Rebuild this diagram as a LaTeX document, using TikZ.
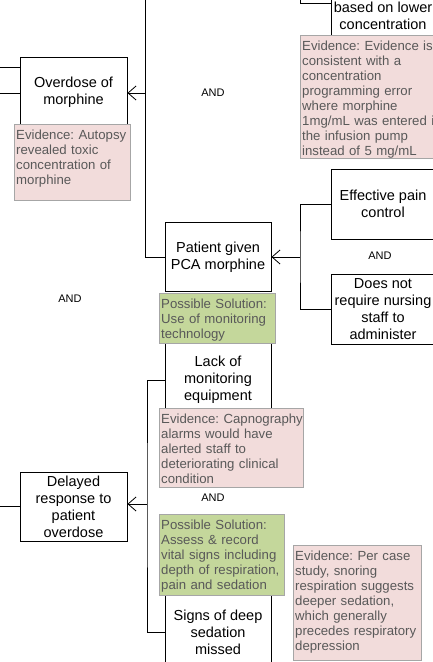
\documentclass[tikz,border=0pt]{standalone}
\usepackage{fontspec}
\setmainfont{Liberation Sans}
\usetikzlibrary{arrows.meta}

\definecolor{evfill}{HTML}{F2DCDB}
\definecolor{solfill}{HTML}{C4D79B}
\definecolor{boxline}{HTML}{A6A6A6}
\definecolor{notetext}{HTML}{595959}

\newcommand{\notefont}{\fontsize{13.2}{15}\selectfont\frenchspacing\hyphenpenalty 10000\relax}

\tikzset{
    cause/.style={draw, line width=0.9pt, minimum width=107pt, minimum height=69pt,
        inner sep=2pt, align=center, font=\fontsize{14.5}{17}\selectfont},
    andlabel/.style={font=\fontsize{11}{13}\selectfont},
    evidence/.style 2 args={draw=boxline, fill=evfill, text=notetext, anchor=north west,
        text width=#1, text height=12pt, text depth=#2, inner xsep=2pt, inner ysep=3pt,
        align=left, font=\notefont},
    solution/.style 2 args={evidence={#1}{#2}, fill=solfill},
    link/.style={line width=0.8pt},
    arr/.style={link, -{Straight Barb[length=8pt,width=14pt]}}
}

\begin{document}
\begin{tikzpicture}[x=1pt, y=-1pt]
    \useasboundingbox (0,0) rectangle (433,662);
    \clip (0,0) rectangle (433,662);

    % cause boxes
    \node[cause, minimum width=104pt, minimum height=43pt] (pump) at (383,15.5) {based on lower\\concentration};
    \node[cause] (overdose) at (73.5,92) {Overdose of\\morphine};
    \node[cause, minimum width=106pt] (patient) at (218,257) {Patient given\\PCA morphine};
    \node[cause, minimum width=104pt, minimum height=70pt] (pain) at (383,204) {Effective pain\\control};
    \node[cause, minimum width=104pt, minimum height=70pt] (nursing) at (383,309) {Does not\\require nursing\\staff to\\administer};
    \node[cause, minimum width=106pt, minimum height=74pt] (monitor) at (218,380) {Lack of\\monitoring\\equipment};
    \node[cause] (delayed) at (73.5,506.5) {Delayed\\response to\\patient\\overdose};
    \node[cause, minimum width=106pt, minimum height=74pt] (signs) at (218,632) {Signs of deep\\sedation\\missed};

    % AND labels
    \node[andlabel] (and1) at (213,93) {AND};
    \node[andlabel] (and2) at (380,256) {AND};
    \node[andlabel] (and3) at (70,299) {AND};
    \node[andlabel] (and4) at (213,498) {AND};

    % connectors
    \coordinate (pumpin) at (300,-5);
    \draw[link] (pumpin) |- ([yshift=12.5pt]pump.west);

    \coordinate (ortop) at (145,-5);
    \coordinate (orjoin) at (145,93);
    \draw[link] (ortop) |- (patient.west);
    \draw[arr] (orjoin) -- (orjoin -| overdose.east);
    \coordinate (odin1) at (-5,67);
    \coordinate (odin2) at (-5,93);
    \draw[link] (odin1) -- (odin1 -| overdose.west);
    \draw[link] (odin2) -- (odin2 -| overdose.west);

    \coordinate (ptjoin) at (300,257);
    \draw[link] (pain.west) -| (ptjoin) |- (nursing.west);
    \draw[arr] (ptjoin) -- (patient.east);

    \coordinate (dljoin) at (147,504);
    \coordinate (dlout) at (-5,506.5);
    \draw[link] (monitor.west) -| (dljoin) |- (signs.west);
    \draw[arr] (dljoin) -- (dljoin -| delayed.east);
    \draw[link] (dlout) -- (delayed.west);

    % evidence and solutions
    \node[evidence={132pt}{105pt}] (evpump) at (300,35) {\mbox{Evidence: Evidence is}\\consistent with a\\concentration\\programming error\\where morphine\\\mbox{1mg/mL was entered in}\\the infusion pump\\\mbox{instead of 5 mg/mL}};
    \node[evidence={112pt}{58pt}] (evautopsy) at (14,124) {\mbox{Evidence: Autopsy}\\revealed toxic\\concentration of\\morphine};
    \node[solution={112pt}{32pt}] (solmonitor) at (159,293) {\mbox{Possible Solution:}\\\mbox{Use of monitoring}\\technology};
    \node[evidence={140pt}{61pt}] (evcapno) at (159,408) {\mbox{Evidence: Capnography}\\alarms would have\\alerted staff to\\\mbox{deteriorating clinical}\\condition};
    \node[solution={121pt}{63pt}] (solassess) at (159,514) {Possible Solution:\\Assess \& record\\\mbox{vital signs including}\\\mbox{depth of respiration,}\\pain and sedation};
    \node[evidence={124pt}{97pt}] (evsnore) at (293,545) {Evidence: Per case\\study, snoring\\\mbox{respiration suggests}\\deeper sedation,\\which generally\\\mbox{precedes respiratory}\\depression};
\end{tikzpicture}
\end{document}
